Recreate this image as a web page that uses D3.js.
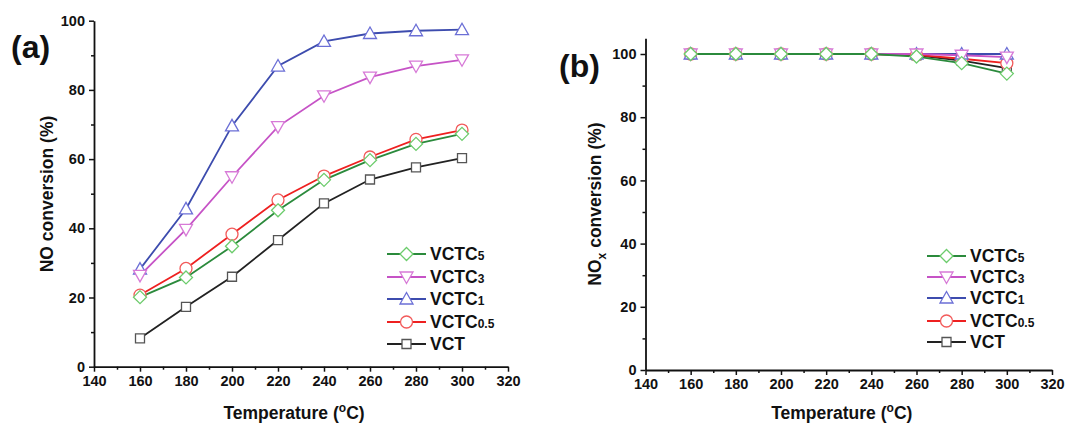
<!DOCTYPE html>
<html><head><meta charset="utf-8">
<script src="https://cdn.jsdelivr.net/npm/d3@7"></script>
<style>
body{margin:0;background:#fff;}
svg{display:block;font-family:"Liberation Sans",Arial,sans-serif;font-weight:bold;}
</style></head>
<body><svg id="c" width="1069" height="426"></svg>
<script>
const temps = [160,180,200,220,240,260,280,300];
const xTicks = [140,160,180,200,220,240,260,280,300,320];
const xMinor = [150,170,190,210,230,250,270,290,310];
const yTicks = [0,20,40,60,80,100];
const yMinor = [10,30,50,70,90];

// Panel (a) NO conversion
const aVCT    = [8.2,17.3,26.0,36.6,47.2,54.1,57.6,60.3];
const aVCTC05 = [20.7,28.4,38.3,48.2,55.1,60.6,65.7,68.4];
const aVCTC1  = [28.2,45.6,69.6,86.9,94.0,96.3,97.1,97.4];
const aVCTC3  = [26.4,39.7,54.9,69.4,78.3,83.7,86.9,88.7];
const aVCTC5  = [20.1,25.8,34.8,45.2,54.0,59.7,64.4,67.3];

// Panel (b) NOx conversion
const bVCT    = [100,100,100,100,100,99.6,97.9,95.5];
const bVCTC05 = [100,100,100,100,100,99.7,98.5,97.1];
const bVCTC1  = [100,100,100,100,100,100,100,100];
const bVCTC3  = [100,100,100,100,100,100,99.6,99.0];
const bVCTC5  = [100,100,100,100,100,99.2,97.1,93.8];

const seriesNames = ["VCTC","VCTC","VCTC","VCTC","VCT"];
const seriesSubs  = ["5","3","1","0.5",""];
const lineColors   = ["#2b8a3c","#c653c6","#3d4cae","#ee2020","#222222"];
const markerColors = ["#6ccc6c","#d77ad7","#6b6fd6","#f25a5a","#555555"];
const markerTypes  = ["diamond","down","up","circle","square"];

const svg = d3.select("#c");

function markerPath(type){
  switch(type){
    case "diamond": return "M0,-6.5L6.5,0L0,6.5L-6.5,0Z";
    case "up": return "M0,-6.5L6.5,5L-6.5,5Z";
    case "down": return "M0,6.5L6.5,-5L-6.5,-5Z";
    case "square": return "M-4.5,-4.5H4.5V4.5H-4.5Z";
    case "circle": return "M6,0A6,6 0 1,1 -6,0A6,6 0 1,1 6,0Z";
  }
}

function panel(opts){
  const g = svg.append("g");
  const x = d3.scaleLinear().domain([140,320]).range(opts.xr);
  const y = d3.scaleLinear().domain(opts.yd).range(opts.yr);
  const y0 = y(0);
  const xa = g.append("g").attr("transform",`translate(0,${y0})`)
    .call(d3.axisBottom(x).tickValues(xTicks).tickSize(5).tickSizeOuter(0).tickPadding(4));
  g.append("g").attr("transform",`translate(0,${y0})`)
    .call(d3.axisBottom(x).tickValues(xMinor).tickSize(3).tickSizeOuter(0).tickFormat(""))
    .select(".domain").remove();
  const ya = g.append("g").attr("transform",`translate(${opts.xr[0]},0)`)
    .call(d3.axisLeft(y).tickValues(yTicks).tickSize(5).tickSizeOuter(0).tickPadding(4));
  g.append("g").attr("transform",`translate(${opts.xr[0]},0)`)
    .call(d3.axisLeft(y).tickValues(yMinor).tickSize(3).tickSizeOuter(0).tickFormat(""))
    .select(".domain").remove();
  g.selectAll(".domain").attr("stroke","#111").attr("stroke-width",1.8);
  g.selectAll(".tick line").attr("stroke","#111").attr("stroke-width",1.5);
  [xa,ya].forEach(a=>a.selectAll("text").attr("font-size",14.5).attr("font-weight","bold").attr("fill","#111")
    .attr("font-family","Liberation Sans, Arial, sans-serif"));

  const line = d3.line().x((d,i)=>x(temps[i])).y(d=>y(d));
  for(let s=4;s>=0;s--){
    g.append("path").datum(opts.data[s]).attr("d",line)
      .attr("fill","none").attr("stroke",lineColors[s]).attr("stroke-width",1.8);
  }
  for(let s=4;s>=0;s--){
    g.selectAll(null).data(opts.data[s]).join("path")
      .attr("transform",(d,i)=>`translate(${x(temps[i])},${y(d)})`)
      .attr("d",markerPath(markerTypes[s]))
      .attr("fill","#fff").attr("stroke",markerColors[s]).attr("stroke-width",1.3);
  }

  const lg = g.append("g");
  seriesNames.forEach((nm,i)=>{
    const ly = opts.legY[i];
    lg.append("line").attr("x1",opts.legX).attr("x2",opts.legX+39).attr("y1",ly).attr("y2",ly)
      .attr("stroke",lineColors[i]).attr("stroke-width",1.8);
    lg.append("path").attr("transform",`translate(${opts.legX+19.5},${ly})`).attr("d",markerPath(markerTypes[i]))
      .attr("fill","#fff").attr("stroke",markerColors[i]).attr("stroke-width",1.3);
    const t = lg.append("text").attr("x",opts.legX+43).attr("y",ly+6).attr("font-size",17.5).attr("fill","#111");
    t.append("tspan").text(nm);
    if(seriesSubs[i]) t.append("tspan").attr("font-size",12).text(seriesSubs[i]);
  });

  const xt = g.append("text").attr("x",(opts.xr[0]+opts.xr[1])/2 - 7).attr("y",419)
    .attr("text-anchor","middle").attr("font-size",17.5).attr("fill","#111");
  xt.append("tspan").text("Temperature (");
  xt.append("tspan").attr("font-size",12).attr("dy",-7).text("o");
  xt.append("tspan").attr("dy",7).text("C)");

  const yt = g.append("text").attr("transform",`translate(${opts.yTitleX},${opts.yTitleY}) rotate(-90)`)
    .attr("text-anchor","middle").attr("font-size",17.5).attr("fill","#111");
  opts.yTitle(yt);

  g.append("text").attr("x",opts.lab[0]).attr("y",opts.lab[1]).attr("font-size",32).attr("fill","#111").text(opts.label);
}

panel({
  xr:[94,508], yd:[0,100], yr:[366.7,20.7],
  data:[aVCTC5,aVCTC3,aVCTC1,aVCTC05,aVCT],
  legX:387, legY:[254,277,299,322,344],
  yTitleX:53, yTitleY:194,
  yTitle:t=>t.text("NO conversion (%)"),
  lab:[11,58], label:"(a)"
});

panel({
  xr:[645.5,1052], yd:[0,105], yr:[370,370-105*3.16],
  data:[bVCTC5,bVCTC3,bVCTC1,bVCTC05,bVCT],
  legX:927, legY:[256,277,298,321,342],
  yTitleX:601, yTitleY:204,
  yTitle:t=>{ t.append("tspan").text("NO"); t.append("tspan").attr("font-size",12).attr("dy",5).text("x");
              t.append("tspan").attr("dy",-5).text(" conversion (%)"); },
  lab:[559,77], label:"(b)"
});
</script></body></html>
